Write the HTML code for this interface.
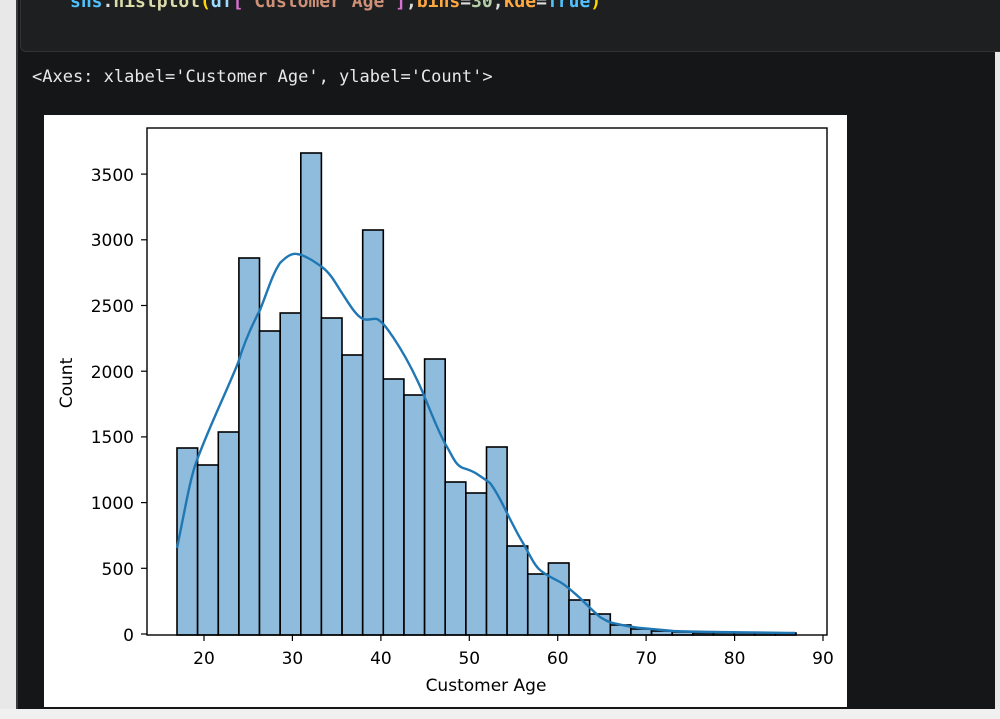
<!DOCTYPE html>
<html><head><meta charset="utf-8"><style>
html,body{margin:0;padding:0;}
body{width:1000px;height:719px;background:#151617;position:relative;overflow:hidden;font-family:"DejaVu Sans","Liberation Sans",sans-serif;}
.lstrip{position:absolute;left:0;top:0;width:16px;height:719px;background:#e8e8e8;}
.lline{position:absolute;left:16px;top:0;width:2px;height:719px;background:#3a3a3a;}
.rstrip{position:absolute;left:995px;top:0;width:5px;height:719px;background:#e8e8e8;}
.bstrip{position:absolute;left:0;top:709px;width:1000px;height:10px;background:#f0f0f0;}
.cell{position:absolute;left:20px;top:-10px;width:990px;height:60px;background:#1e1f20;border:1px solid #333;border-radius:6px;}
.code{position:absolute;left:70px;top:-9px;font-family:"DejaVu Sans Mono","Liberation Mono",monospace;font-size:18px;font-weight:bold;color:#4ec9b0;white-space:pre;}
.out{position:absolute;left:32px;top:67px;font-family:"DejaVu Sans Mono","Liberation Mono",monospace;font-size:17px;color:#e8e8e8;white-space:pre;}
</style></head><body>
<div class="lstrip"></div><div class="lline"></div><div class="rstrip"></div>
<div class="cell"></div>
<div class="code"><span style="color:#4fc1ff">sns</span><span style="color:#ddd">.</span><span style="color:#dcdcaa">histplot</span><span style="color:#ffd700">(</span><span style="color:#9cdcfe">df</span><span style="color:#da70d6">[</span><span style="color:#ce9178">"Customer Age"</span><span style="color:#da70d6">]</span><span style="color:#ddd">,</span><span style="color:#ffa940">bins</span><span style="color:#ddd">=</span><span style="color:#b5cea8">30</span><span style="color:#ddd">,</span><span style="color:#ffa940">kde</span><span style="color:#ddd">=</span><span style="color:#4fc1ff">True</span><span style="color:#ffd700">)</span></div>
<div class="out">&lt;Axes: xlabel='Customer Age', ylabel='Count'&gt;</div>
<svg style="position:absolute;left:0;top:0" width="1000" height="719" xmlns="http://www.w3.org/2000/svg">
<rect x="44" y="115" width="803" height="592" fill="#fff"/>
<g fill="#8fbcdc" stroke="#000" stroke-width="1.6">
<rect x="177" y="448" width="20.6" height="187"/>
<rect x="197.6" y="465" width="20.6" height="170"/>
<rect x="218.3" y="432" width="20.6" height="203"/>
<rect x="238.9" y="258" width="20.6" height="377"/>
<rect x="259.5" y="331" width="20.6" height="304"/>
<rect x="280.2" y="313" width="20.6" height="322"/>
<rect x="300.8" y="153" width="20.6" height="482"/>
<rect x="321.4" y="318" width="20.6" height="317"/>
<rect x="342.1" y="355" width="20.6" height="280"/>
<rect x="362.7" y="230" width="20.6" height="405"/>
<rect x="383.3" y="379" width="20.6" height="256"/>
<rect x="404" y="395" width="20.6" height="240"/>
<rect x="424.6" y="359" width="20.6" height="276"/>
<rect x="445.2" y="482" width="20.6" height="153"/>
<rect x="465.9" y="493" width="20.6" height="142"/>
<rect x="486.5" y="447" width="20.6" height="188"/>
<rect x="507.1" y="546" width="20.6" height="89"/>
<rect x="527.8" y="574" width="20.6" height="61"/>
<rect x="548.4" y="563" width="20.6" height="72"/>
<rect x="569" y="600" width="20.6" height="35"/>
<rect x="589.7" y="614" width="20.6" height="21"/>
<rect x="610.3" y="625" width="20.6" height="10"/>
<rect x="630.9" y="629" width="20.6" height="6"/>
<rect x="651.6" y="631" width="20.6" height="4"/>
<rect x="672.2" y="632" width="20.6" height="3"/>
<rect x="692.8" y="633" width="20.6" height="2"/>
<rect x="713.5" y="633" width="20.6" height="2"/>
<rect x="734.1" y="633" width="20.6" height="2"/>
<rect x="754.7" y="633" width="20.6" height="2"/>
<rect x="775.4" y="633" width="20.6" height="2"/>
</g>
<path d="M177,548 C185,510 190,478 197,460 C210,425 225,395 238,363 C245,340 252,325 260,310 C268,290 272,275 280,263 C287,256 292,253 297,254 C305,255 315,262 322,267 C330,273 335,282 340,290 C348,302 355,315 363,319 C368,321 373,318 377,319 C383,322 388,330 393,337 C405,355 414,372 423,393 C432,415 440,435 447,447 C452,455 455,465 463,468 C470,470 474,472 477,474 C483,478 486,480 490,483 C497,492 502,503 507,513 C513,525 518,535 523,543 C530,555 534,565 540,570 C547,576 553,578 560,582 C567,586 573,592 580,598 C587,605 594,612 600,617 C605,620 608,622 613,623 C622,625 630,627 640,628 C652,629 662,630 673,631 C690,632 720,632 795,633" fill="none" stroke="#1f77b4" stroke-width="2.4"/>
<rect x="147" y="128" width="680" height="507" fill="none" stroke="#000" stroke-width="1.4"/>
<g stroke="#000" stroke-width="1.2">
<line x1="141" y1="634" x2="147" y2="634"/><line x1="141" y1="568.3" x2="147" y2="568.3"/><line x1="141" y1="502.6" x2="147" y2="502.6"/><line x1="141" y1="436.9" x2="147" y2="436.9"/><line x1="141" y1="371.2" x2="147" y2="371.2"/><line x1="141" y1="305.5" x2="147" y2="305.5"/><line x1="141" y1="239.8" x2="147" y2="239.8"/><line x1="141" y1="174.1" x2="147" y2="174.1"/>
<line x1="204" y1="635" x2="204" y2="641"/><line x1="292.4" y1="635" x2="292.4" y2="641"/><line x1="380.9" y1="635" x2="380.9" y2="641"/><line x1="469.3" y1="635" x2="469.3" y2="641"/><line x1="557.7" y1="635" x2="557.7" y2="641"/><line x1="646.1" y1="635" x2="646.1" y2="641"/><line x1="734.6" y1="635" x2="734.6" y2="641"/><line x1="823" y1="635" x2="823" y2="641"/>
</g>
<g font-family="DejaVu Sans, sans-serif" font-size="17" fill="#000" text-anchor="end">
<text x="134" y="641">0</text><text x="134" y="575">500</text><text x="134" y="509">1000</text><text x="134" y="443">1500</text><text x="134" y="378">2000</text><text x="134" y="312">2500</text><text x="134" y="246">3000</text><text x="134" y="181">3500</text>
</g>
<g font-family="DejaVu Sans, sans-serif" font-size="17" fill="#000" text-anchor="middle">
<text x="204" y="664">20</text><text x="292.4" y="664">30</text><text x="380.9" y="664">40</text><text x="469.3" y="664">50</text><text x="557.7" y="664">60</text><text x="646.1" y="664">70</text><text x="734.6" y="664">80</text><text x="823" y="664">90</text>
<text x="486" y="691">Customer Age</text>
<text transform="translate(72,383) rotate(-90)">Count</text>
</g>
</svg>
<div class="bstrip"></div>
</body></html>
